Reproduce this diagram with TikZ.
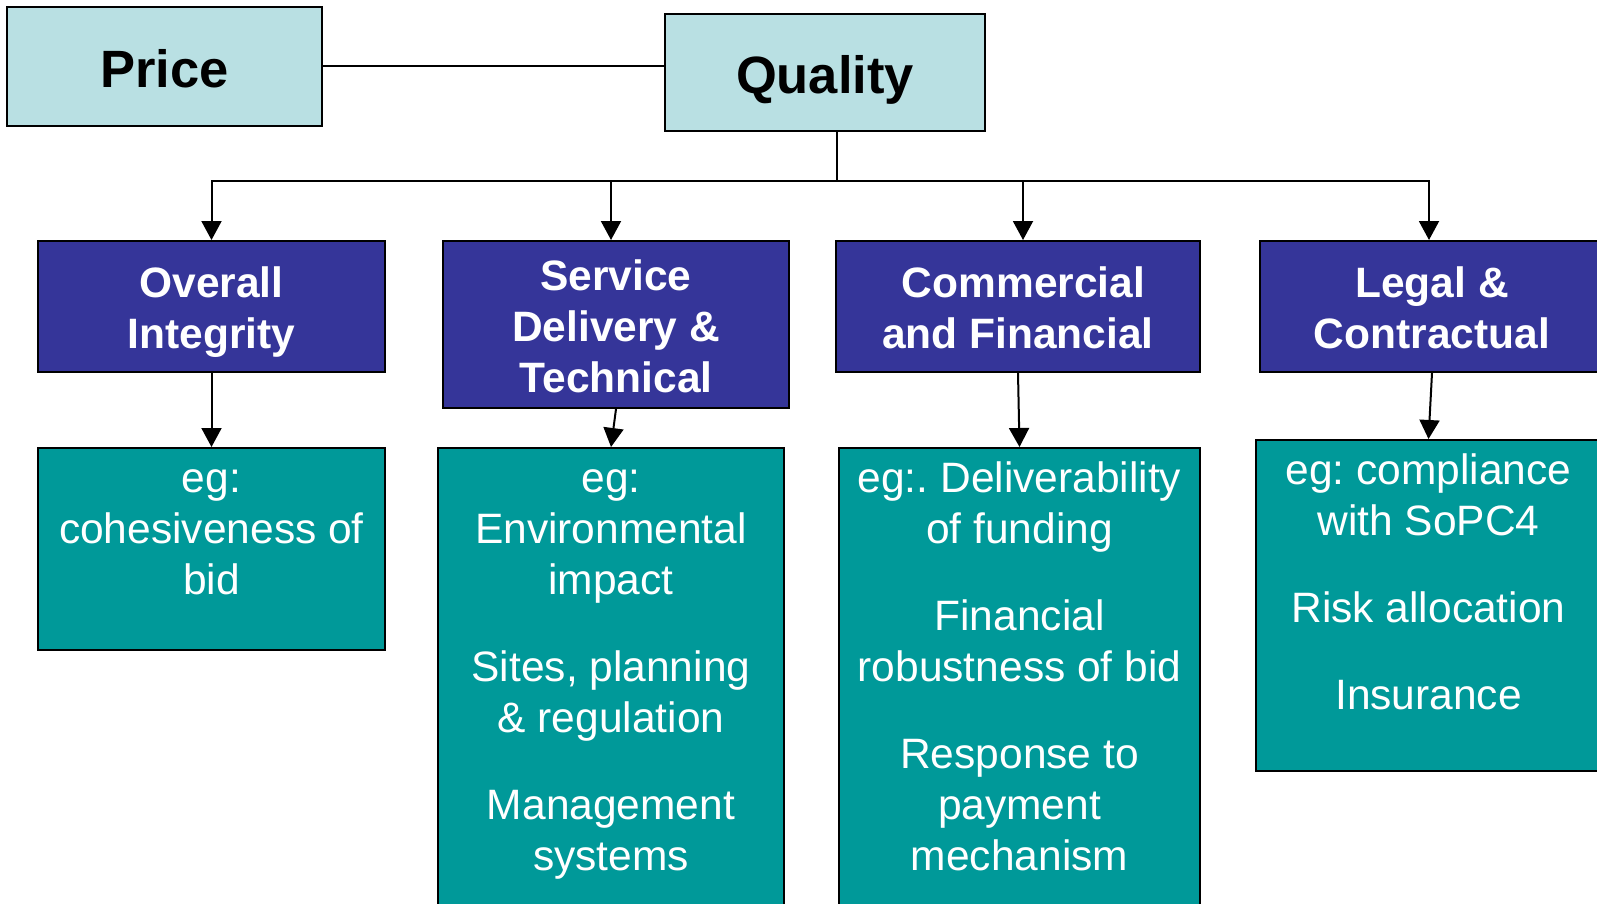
\documentclass[tikz,border=0pt]{standalone}
\usepackage{fontspec}
\setmainfont{Liberation Sans}
\usetikzlibrary{positioning, arrows.meta}
\definecolor{qcyan}{HTML}{B9E0E3}
\definecolor{qblue}{HTML}{353599}
\definecolor{qteal}{HTML}{009999}
% struts that set the first and last line of a box
\newcommand{\catin}{\rule{0pt}{42.6pt}}
\newcommand{\catout}{\rule[-9.6pt]{0pt}{9.6pt}}

\begin{document}
\begin{tikzpicture}[x=1pt, y=-1pt, thick,
    titlebox/.style = {draw, line width=2pt, fill=qcyan, inner sep=0pt, font=\fontsize{52.5}{63}\selectfont\bfseries,
        execute at begin node={\rule{0pt}{53pt}}, execute at end node={\rule[-11pt]{0pt}{11pt}}},
    catbox/.style = {draw, line width=2pt, fill=qblue, text=white, align=center, inner sep=0pt, font=\fontsize{42.5}{51}\selectfont\bfseries},
    detbox/.style = {draw, line width=2pt, fill=qteal, inner sep=0pt},
    dettext/.style = {text=white, align=center, inner sep=0pt, anchor=north, font=\fontsize{42.5}{51}\selectfont\frenchspacing},
    arr/.style = {line width=2pt, -{Triangle[width=20pt, length=19pt]}}]

        \clip (0,0) rectangle (1597,904);

        \node[titlebox, minimum width=315pt, minimum height=119pt] (price) at (164.5,66.5) {Price};
        \node[titlebox, minimum width=320pt, minimum height=117pt] (quality) at (825,72.5) {Quality};

        \node[catbox, minimum width=347pt, minimum height=131pt] (c1) at (211.5,306.5) {\catin Overall\\Integrity\catout};
        \node[catbox, minimum width=346pt, minimum height=167pt] (c2) at (616,324.5) {\catin Service\\Delivery \&\\Technical\catout};
        \node[catbox, minimum width=364pt, minimum height=131pt] (c3) at (1018,306.5) {\catin\hspace*{11pt}Commercial\\and Financial\catout};
        \node[catbox, minimum width=344pt, minimum height=131pt] (c4) at (1432,306.5) {\catin Legal \&\\Contractual\catout};

        \node[detbox, minimum width=347pt, minimum height=202pt] (d1) [below=74pt of c1] {};
        \node[detbox, minimum width=346pt, minimum height=500pt] (d2) [below=38pt of c2, xshift=-5pt] {};
        \node[detbox, minimum width=361pt, minimum height=500pt] (d3) [below=74pt of c3, xshift=1.5pt] {};
        \node[detbox, minimum width=345pt, minimum height=331pt] (d4) [below=66pt of c4, xshift=-3.5pt] {};

        \node[dettext] (t1) at ([yshift=-9pt]d1.north) {\strut eg:\\cohesiveness of\\bid};
        \node[dettext] (t2) at ([yshift=-9pt]d2.north) {\strut eg:\\Environmental\\impact\\[36pt]Sites, planning\\\& regulation\\[36pt]Management\\systems};
        \node[dettext] (t3) at ([yshift=-9pt]d3.north) {\strut eg:. Deliverability\\of funding\\[36pt]Financial\\robustness of bid\\[36pt]Response to\\payment\\mechanism};
        \node[dettext] (t4) at ([yshift=-9pt]d4.north) {\strut eg: compliance\\with SoPC4\\[36pt]Risk allocation\\[36pt]Insurance};

        \draw[line width=2pt] (price.east) -- (price.east -| quality.west);
        \coordinate (bus) at (837,181);
        \draw[line width=2pt] (quality.south -| bus) -- (bus);
        \draw[arr] (bus) -| (c1.north);
        \draw[arr] (bus) -| ([xshift=-5pt]c2.north);
        \draw[arr] (bus) -| ([xshift=5pt]c3.north);
        \draw[arr] (bus) -| ([xshift=-3pt]c4.north);

        \draw[arr] (c1.south) -- (d1.north);
        \draw[arr] (c2.south) -- (d2.north);
        \draw[arr] (c3.south) -- (d3.north);
        \draw[arr] (c4.south) -- (d4.north);

\end{tikzpicture}
\end{document}
